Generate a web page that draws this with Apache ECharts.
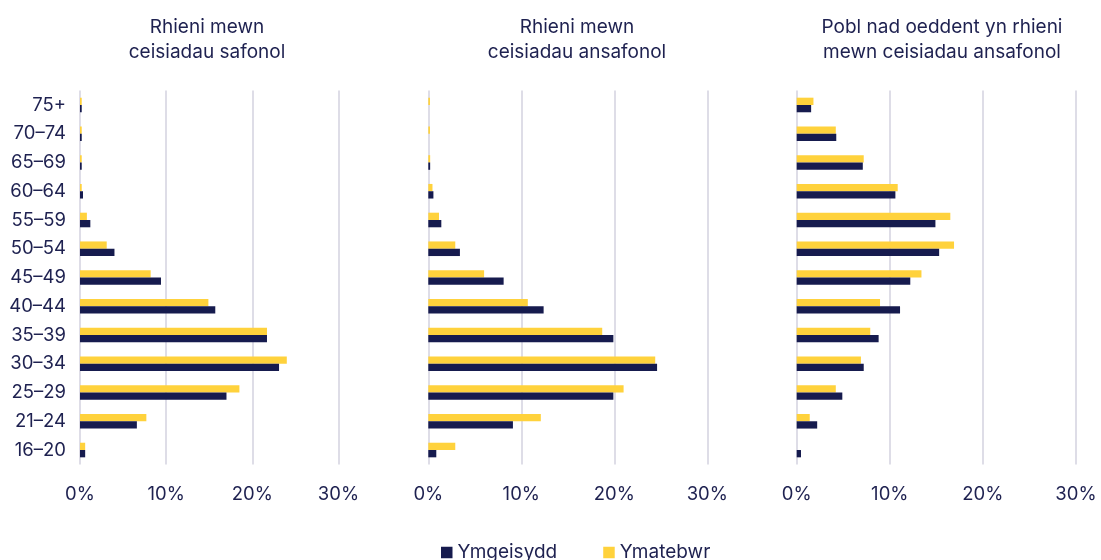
<!DOCTYPE html>
<html>
<head>
<meta charset="utf-8">
<script src="https://cdn.jsdelivr.net/npm/echarts@6/dist/echarts.min.js"></script>
<style>
html,body{margin:0;padding:0;background:#fff;}
#c{width:1101px;height:560px;}
</style>
</head>
<body>
<div id="c"></div>
<script>
const categories = ['16–20','21–24','25–29','30–34','35–39','40–44','45–49','50–54','55–59','60–64','65–69','70–74','75+'];
const seriesNames = ['Ymgeisydd','Ymatebwr'];
const panelTitles = ['Rhieni mewn\nceisiadau safonol','Rhieni mewn\nceisiadau ansafonol','Pobl nad oeddent yn rhieni\nmewn ceisiadau ansafonol'];
const xTicks = [0,10,20,30];

// Panel 1: Rhieni mewn ceisiadau safonol
const p1Ymgeisydd = [0.6,6.6,17.0,23.1,21.7,15.7,9.4,4.0,1.2,0.35,0.2,0.2,0.2];
const p1Ymatebwr  = [0.6,7.7,18.5,24.0,21.7,14.9,8.2,3.1,0.8,0.2,0.2,0.2,0.2];
// Panel 2: Rhieni mewn ceisiadau ansafonol
const p2Ymgeisydd = [0.86,9.1,19.9,24.6,19.9,12.4,8.1,3.4,1.4,0.55,0.2,0,0];
const p2Ymatebwr  = [2.9,12.1,21.0,24.4,18.7,10.7,6.0,2.9,1.15,0.45,0.2,0.18,0.18];
// Panel 3: Pobl nad oeddent yn rhieni mewn ceisiadau ansafonol
const p3Ymgeisydd = [0.46,2.2,4.9,7.2,8.8,11.1,12.2,15.3,14.9,10.6,7.1,4.25,1.55];
const p3Ymatebwr  = [0,1.4,4.2,6.9,7.9,8.95,13.4,16.9,16.5,10.85,7.2,4.2,1.8];

const navy = '#161b4e';
const yellow = '#ffd23c';
const textColor = '#1e2150';
const gridColor = '#dedde7';
const fontFamily = 'Inter, Lato, sans-serif';

const grids = [
  {left: 80, width: 258.5, top: 90.6, height: 373.8},
  {left: 428.3, width: 279, top: 90.6, height: 373.8},
  {left: 796.7, width: 279.3, top: 90.6, height: 373.8}
];
const titleLeft = [202, 572, 937];
const data = [[p1Ymgeisydd,p1Ymatebwr],[p2Ymgeisydd,p2Ymatebwr],[p3Ymgeisydd,p3Ymatebwr]];
const colors = [navy, yellow];

const option = {
  animation: false,
  backgroundColor: '#fff',
  textStyle: {fontFamily: fontFamily},
  title: panelTitles.map((t,i)=>({
    text: t,
    left: titleLeft[i],
    top: 10,
    textAlign: 'center',
    textStyle: {fontFamily: fontFamily, fontSize: 19, fontWeight: 'normal', color: textColor, lineHeight: 25}
  })),
  legend: {
    top: 538,
    left: 436,
    itemWidth: 11.5,
    itemHeight: 11.5,
    itemGap: 46,
    icon: 'rect',
    data: seriesNames,
    textStyle: {fontFamily: fontFamily, fontSize: 19, color: textColor}
  },
  grid: grids,
  xAxis: grids.map((g,i)=>({
    type: 'value',
    gridIndex: i,
    min: 0, max: 30, interval: 10,
    axisLine: {show: false},
    axisTick: {show: false},
    splitLine: {show: true, lineStyle: {color: gridColor, width: 2}},
    axisLabel: {formatter: v => v + '%', fontSize: 18.5, color: textColor, margin: 21, fontFamily: fontFamily}
  })),
  yAxis: grids.map((g,i)=>({
    type: 'category',
    gridIndex: i,
    data: categories,
    axisLine: {show: false},
    axisTick: {show: false},
    splitLine: {show: false},
    axisLabel: {show: i === 0, fontSize: 18.5, color: textColor, margin: 14, fontFamily: fontFamily}
  })),
  series: []
};

// yellow (Ymatebwr) drawn above navy (Ymgeisydd) within each band
data.forEach((pair,i)=>{
  [1,0].forEach(j=>{
    option.series.push({
      type: 'bar',
      name: seriesNames[j],
      xAxisIndex: i,
      yAxisIndex: i,
      data: pair[j],
      barWidth: 7.3,
      barGap: '0%',
      itemStyle: {color: colors[j]}
    });
  });
});

const chart = echarts.init(document.getElementById('c'), null, {renderer: 'canvas'});
chart.setOption(option);
</script>
</body>
</html>
